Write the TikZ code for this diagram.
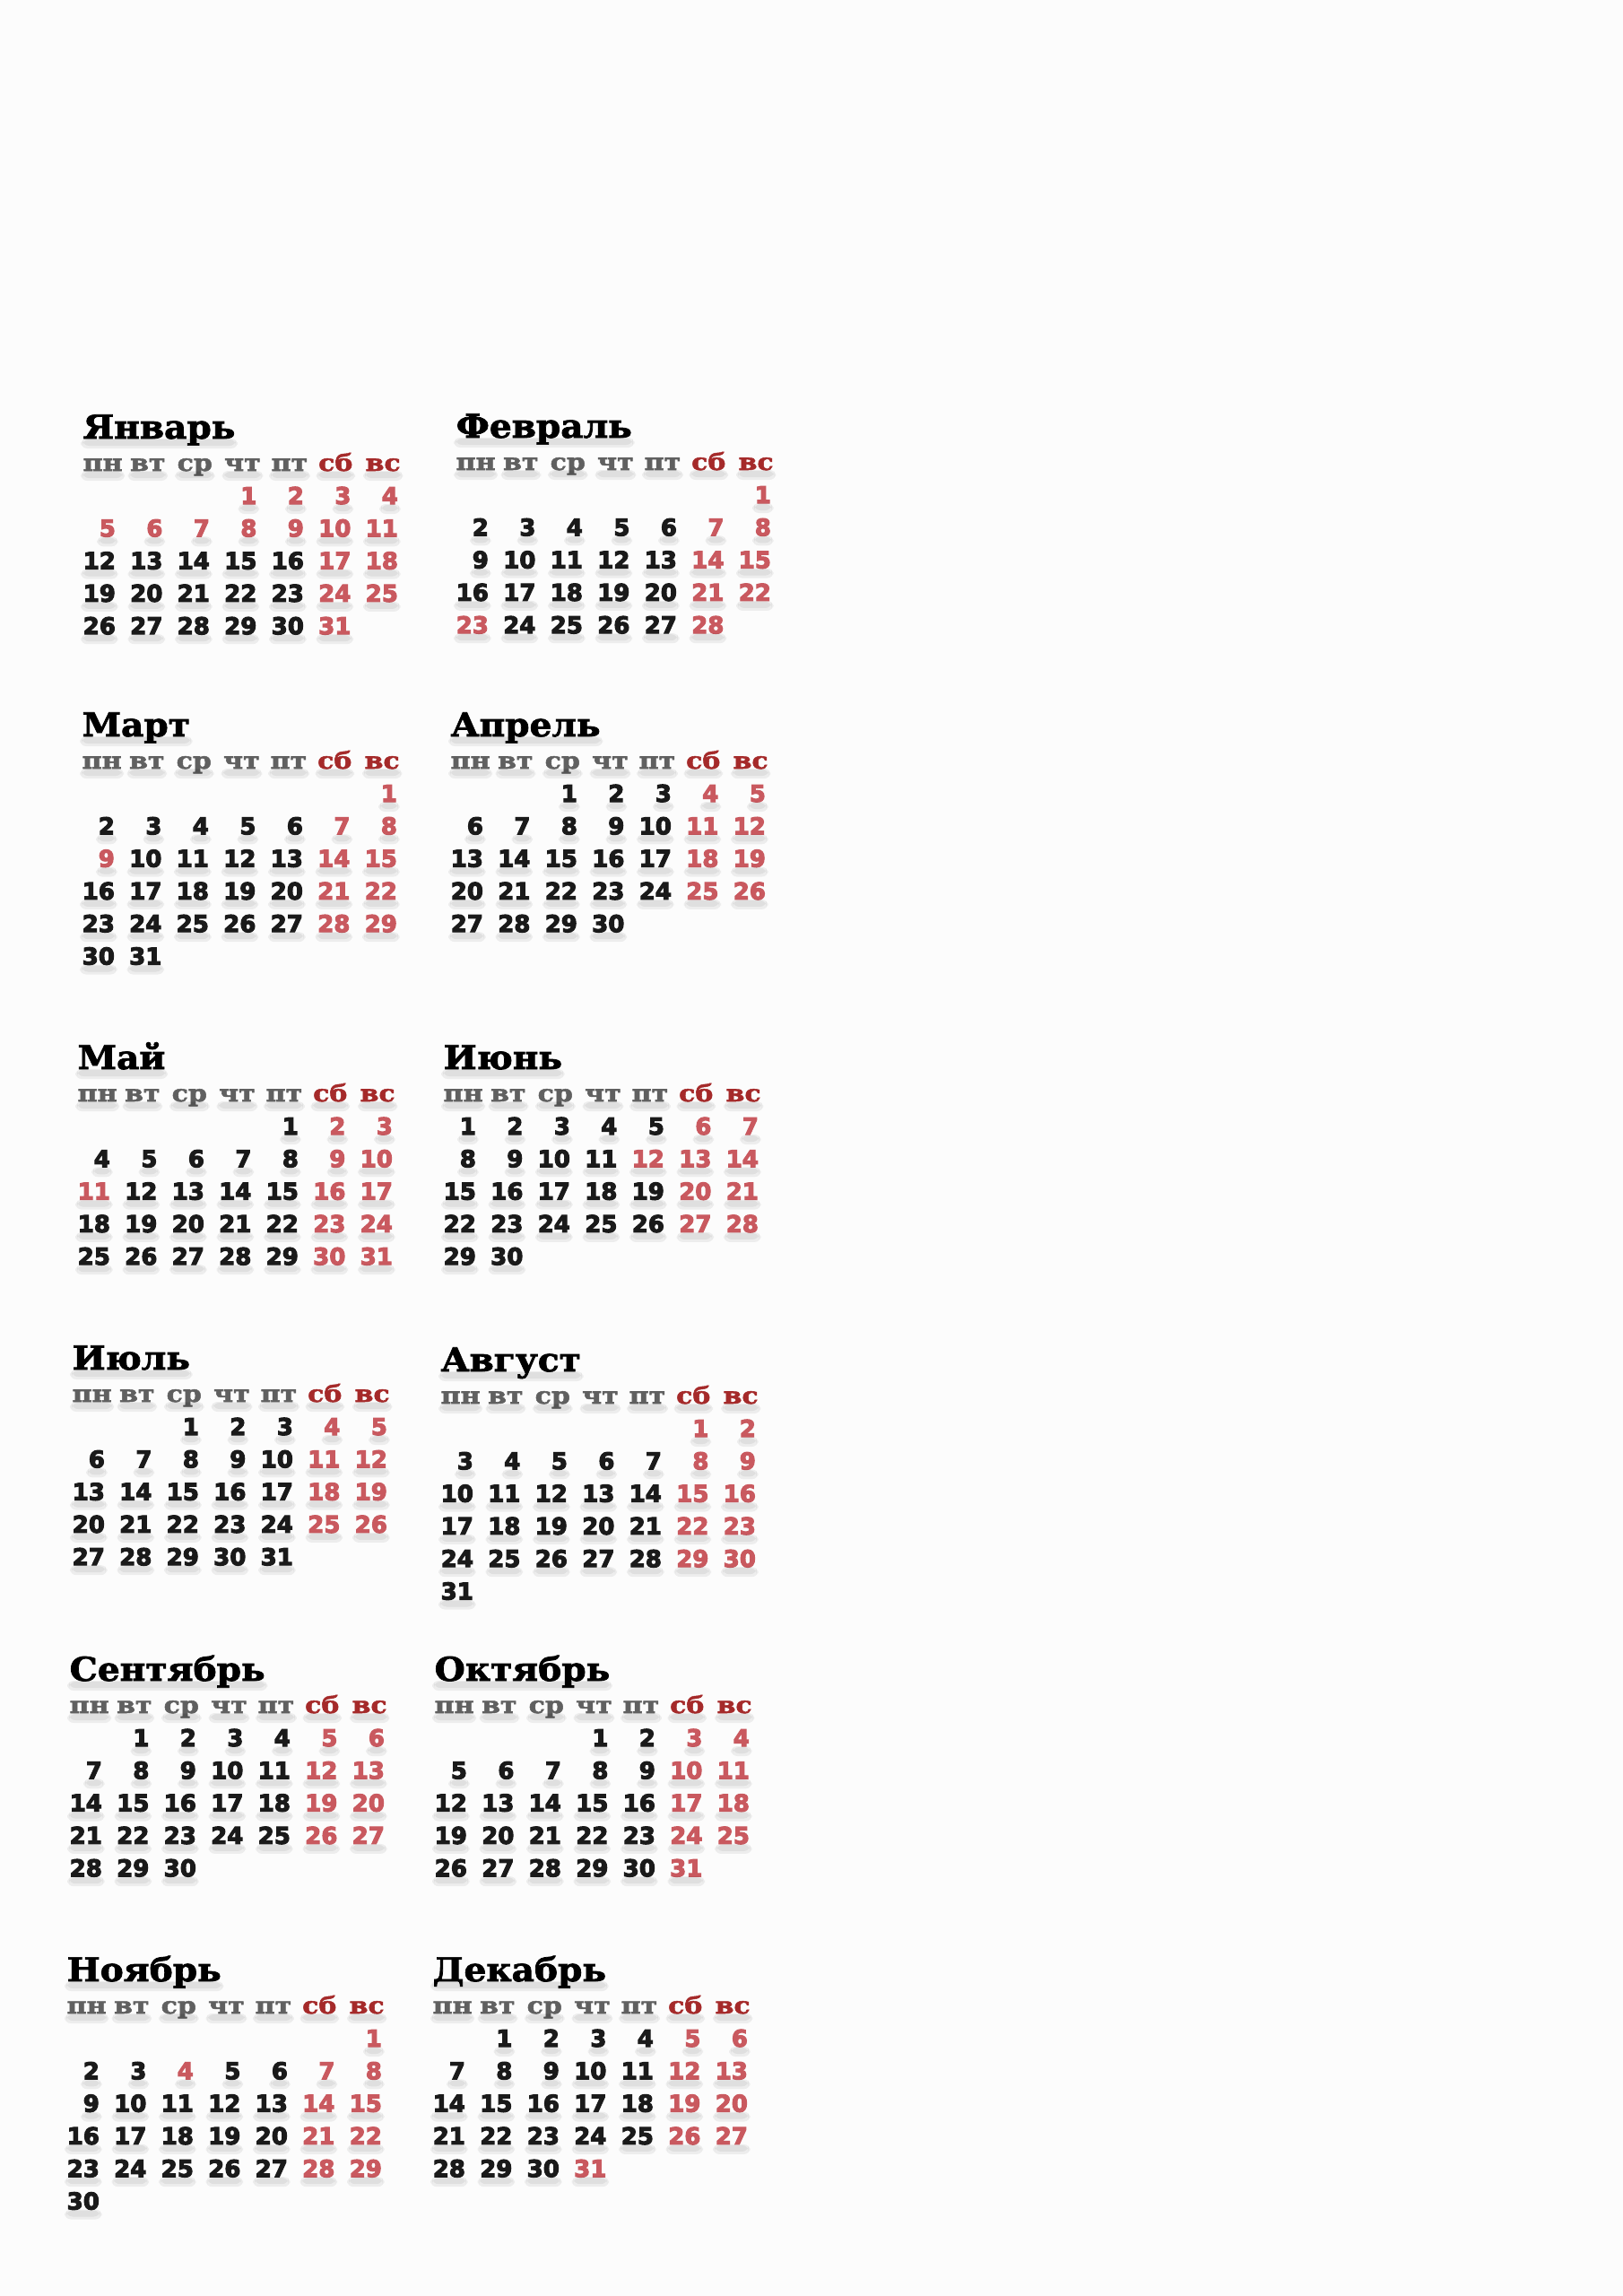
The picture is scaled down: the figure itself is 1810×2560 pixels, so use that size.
\documentclass[tikz,border=0pt]{standalone}
\usepackage{fontspec}
\usepackage{xstring}
\usetikzlibrary{calc}
\newfontfamily\titlefont[FakeStretch=1.07,BoldFeatures={FakeBold=2}]{DejaVu Serif}
\newfontfamily\headfont[FakeStretch=1.15,BoldFeatures={FakeBold=2}]{DejaVu Serif}
\newfontfamily\numfont[BoldFeatures={FakeBold=4}]{DejaVu Sans}
\definecolor{paper}{HTML}{FCFCFC}
\definecolor{daygray}{HTML}{606060}
\definecolor{wkred}{HTML}{A52A2A}
\definecolor{hred}{HTML}{C9595F}
\definecolor{numblack}{HTML}{1A1A1A}
\tikzset{
  monthtitle/.style={anchor=base west,inner sep=0pt,text=black,
    font=\titlefont\bfseries\fontsize{10.4}{12}\selectfont},
  dayhead/.style={anchor=base west,inner sep=0pt,
    font=\headfont\bfseries\fontsize{7.4}{9}\selectfont},
  daynum/.style={anchor=base west,inner sep=0pt,
    font=\numfont\bfseries\fontsize{7.4}{8}\selectfont},
  softshadow/.style={fill=black,fill opacity=0.06,rounded corners=2}
}
% text with a soft shadow below it
\newcommand{\shnode}[4]{%
  \node[#2] (#1) at (#4) {#3};
  \fill[softshadow] ($(#1.base west)+(0,1)$) rectangle ($(#1.base east)+(0,8)$);
  \fill[softshadow] ($(#1.base west)+(-2,0)$) rectangle ($(#1.base east)+(2,11)$);}
% one month: key, title, left x, title baseline y, first weekday (0=пн), days, holidays
\newcommand{\calmonth}[7]{%
  \shnode{#1}{monthtitle}{#2}{#3,#4}%
  \foreach \dname [count=\hc from 0] in {пн,вт,ср,чт,пт,сб,вс}{%
    \ifnum\hc<5 \def\hcol{daygray}\else\def\hcol{wkred}\fi
    \shnode{#1-h\hc}{dayhead,text=\hcol}{\dname}{#3+52.5*\hc,#4+36}}%
  \foreach \dd in {1,...,#6}{%
    \pgfmathtruncatemacro\idx{#5+\dd-1}%
    \pgfmathtruncatemacro\dcolm{mod(\idx,7)}%
    \pgfmathtruncatemacro\drow{div(\idx,7)}%
    \pgfmathsetmacro\dx{#3+52.5*\dcolm+(\dd<10)*18.1}%
    \def\dcol{numblack}%
    \ifnum\dcolm>4 \def\dcol{hred}\fi
    \IfSubStr{,#7,}{,\dd,}{\def\dcol{hred}}{}%
    \shnode{#1-\dd}{daynum,text=\dcol}{\dd}{\dx,#4+73+36.3*\drow}}}
\begin{document}
\begin{tikzpicture}[x=0.01cm,y=-0.01cm]
\path[use as bounding box,fill=paper] (0,0) rectangle (1810,2560);
\calmonth{jan}{Январь}{92}{489}{3}{31}{1,2,5,6,7,8,9}
\calmonth{feb}{Февраль}{508}{488}{6}{28}{23}
\calmonth{mar}{Март}{91}{821}{6}{31}{9}
\calmonth{apr}{Апрель}{502}{821}{2}{30}{}
\calmonth{may}{Май}{86}{1192}{4}{31}{11}
\calmonth{jun}{Июнь}{494}{1192}{0}{30}{12}
\calmonth{jul}{Июль}{80}{1527}{2}{31}{}
\calmonth{aug}{Август}{491}{1529}{5}{31}{}
\calmonth{sep}{Сентябрь}{77}{1874}{1}{30}{}
\calmonth{oct}{Октябрь}{484}{1874}{3}{31}{}
\calmonth{nov}{Ноябрь}{74}{2209}{6}{30}{4}
\calmonth{dec}{Декабрь}{482}{2209}{1}{31}{31}
\end{tikzpicture}
\end{document}
